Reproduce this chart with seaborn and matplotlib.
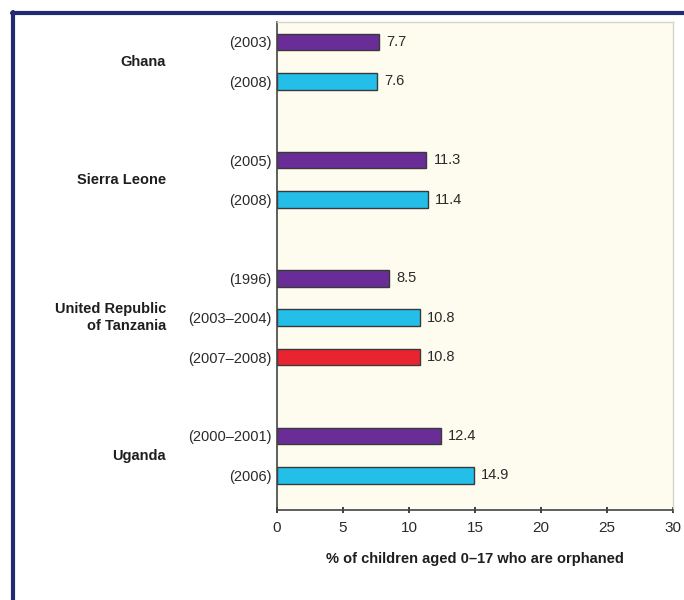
import numpy as np
import pandas as pd
import seaborn as sns
import matplotlib.pyplot as plt
from matplotlib.lines import Line2D

countries = ['Ghana', 'Sierra Leone', 'United Republic\nof Tanzania', 'Uganda']
years = [['(2003)', '(2008)'],
         ['(2005)', '(2008)'],
         ['(1996)', '(2003–2004)', '(2007–2008)'],
         ['(2000–2001)', '(2006)']]
values = [[7.7, 7.6],
          [11.3, 11.4],
          [8.5, 10.8, 10.8],
          [12.4, 14.9]]
round_colors = ['#6a2d98', '#23bfe9', '#ea2330']

sns.set_theme(style='white')
plt.rcParams['font.family'] = ['Liberation Sans', 'DejaVu Sans']

# Construir tabela: cada grupo separado por uma linha vazia
rows = []
pos = 0
for c, ys, vs in zip(countries, years, values):
    for i, (yr, v) in enumerate(zip(ys, vs)):
        rows.append({'country': c, 'year': yr, 'value': v, 'round': i, 'pos': pos})
        pos += 1
    pos += 1
df = pd.DataFrame(rows)

fig = plt.figure(figsize=(6.84, 6.0), dpi=100)
ax = fig.add_axes([0.405, 0.15, 0.579, 0.813])
ax.set_facecolor('#fdfcef')

sns.barplot(data=df, x='value', y='pos', hue='round', orient='h', native_scale=True,
            palette=round_colors, saturation=1, width=0.42, dodge=False,
            edgecolor='#3a3a3a', linewidth=1.0, legend=False, ax=ax)

for _, r in df.iterrows():
    ax.text(r['value'] + 0.55, r['pos'], f"{r['value']:.1f}", va='center', ha='left',
            fontsize=10.5, color='#2a2a2a')

ax.set_xlim(0, 30)
ax.set_ylim(11.88, -0.5)
ax.set_xticks([0, 5, 10, 15, 20, 25, 30])
ax.tick_params(axis='x', labelsize=11, colors='#2a2a2a', length=4, direction='inout',
               bottom=True, pad=6)
ax.set_yticks(df['pos'])
ax.set_yticklabels(df['year'], fontsize=10.5, color='#2a2a2a')
ax.tick_params(axis='y', length=0, pad=4)
ax.set_ylabel('')
ax.set_xlabel('% of children aged 0–17 who are orphaned', fontsize=10.5,
              fontweight='bold', color='#1e1e1e', labelpad=12)

for s in ['left', 'bottom']:
    ax.spines[s].set_color('#444444')
    ax.spines[s].set_linewidth(1.2)
for s in ['top', 'right']:
    ax.spines[s].set_color('#d8d4c8')
    ax.spines[s].set_linewidth(1.0)

# Nomes dos países à esquerda
for c, g in df.groupby('country', sort=False):
    ymid = g['pos'].mean()
    ax.text(-0.28, ymid, c, transform=ax.get_yaxis_transform(), ha='right', va='center',
            fontsize=10.5, fontweight='bold', color='#1e1e1e', linespacing=1.25)

# Moldura azul escura
fig.add_artist(Line2D([0.019, 0.019], [0.0, 0.98], color='#232a72', lw=3))
fig.add_artist(Line2D([0.017, 1.0], [0.979, 0.979], color='#232a72', lw=3))

fig.savefig('out.png', dpi=100, facecolor='white')
